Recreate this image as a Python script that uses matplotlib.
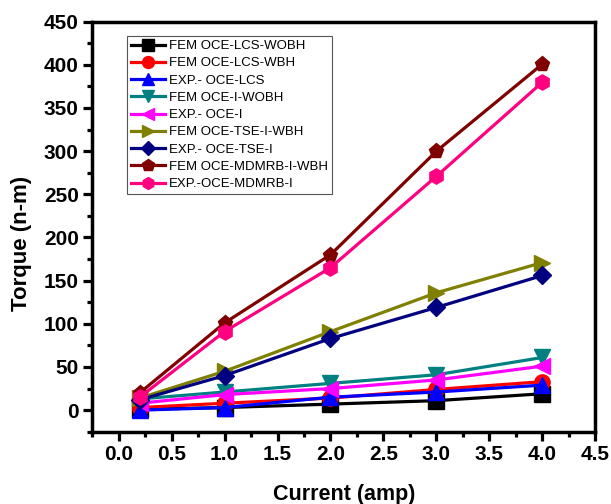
import matplotlib.pyplot as plt
from matplotlib.ticker import MultipleLocator

plt.rcParams['font.family'] = ['Liberation Sans', 'DejaVu Sans']

current = [0.2, 1.0, 2.0, 3.0, 4.0]

fem_lcs_wobh = [1, 3, 7, 11, 19]
fem_lcs_wbh = [3, 8, 14, 24, 33]
exp_lcs = [0, 3, 15, 21, 29]
fem_i_wobh = [13, 21, 31, 41, 61]
exp_i = [8, 18, 25, 35, 51]
fem_tse_wbh = [14, 45, 91, 136, 171]
exp_tse = [12, 40, 83, 119, 156]
fem_mdmrb_wbh = [20, 101, 180, 300, 401]
exp_mdmrb = [15, 91, 165, 271, 380]

series = [
    ('FEM OCE-LCS-WOBH', fem_lcs_wobh, '#000000', 's'),
    ('FEM OCE-LCS-WBH', fem_lcs_wbh, '#ff0000', 'o'),
    ('EXP.- OCE-LCS', exp_lcs, '#0000ff', '^'),
    ('FEM OCE-I-WOBH', fem_i_wobh, '#008080', 'v'),
    ('EXP.- OCE-I', exp_i, '#ff00ff', '<'),
    ('FEM OCE-TSE-I-WBH', fem_tse_wbh, '#808000', '>'),
    ('EXP.- OCE-TSE-I', exp_tse, '#000080', 'D'),
    ('FEM OCE-MDMRB-I-WBH', fem_mdmrb_wbh, '#800000', 'p'),
    ('EXP.-OCE-MDMRB-I', exp_mdmrb, '#ff0080', 'h'),
]

fig = plt.figure(figsize=(6.11, 5.04), dpi=100)
ax = fig.add_axes([0.1506, 0.1434, 0.824, 0.8136])

for name, vals, col, mk in series:
    ms = 9 if mk == 'D' else 11
    ax.plot(current, vals, color=col, marker=mk, markersize=ms, linewidth=2.3, label=name)

ax.set_xlim(-0.25, 4.5)
ax.set_ylim(-25, 450)
ax.xaxis.set_major_locator(MultipleLocator(0.5))
ax.xaxis.set_minor_locator(MultipleLocator(0.25))
ax.yaxis.set_major_locator(MultipleLocator(50))
ax.yaxis.set_minor_locator(MultipleLocator(25))
ax.xaxis.set_major_formatter(plt.FormatStrFormatter('%.1f'))

for s in ax.spines.values():
    s.set_linewidth(2.5)
ax.tick_params(which='major', direction='out', length=6.5, width=2.3, labelsize=15, pad=3)
ax.tick_params(which='minor', direction='out', length=3.5, width=2.3)
for lbl in ax.get_xticklabels() + ax.get_yticklabels():
    lbl.set_fontweight('bold')

ax.set_xlabel('Current (amp)', fontsize=15.5, fontweight='bold')
ax.xaxis.set_label_coords(0.5, -0.127)
ax.set_ylabel('Torque (n-m)', fontsize=16, fontweight='bold')
ax.yaxis.set_label_coords(-0.119, 0.458)

leg = ax.legend(loc='upper left', bbox_to_anchor=(0.0695, 0.965), fontsize=9.5,
                frameon=True, fancybox=False, edgecolor='#555555', framealpha=1,
                handlelength=2.6, labelspacing=0.38, borderpad=0.3, handletextpad=0.3,
                borderaxespad=0, markerscale=0.78)
leg.get_frame().set_linewidth(0.8)

fig.savefig('out.png', dpi=100)
